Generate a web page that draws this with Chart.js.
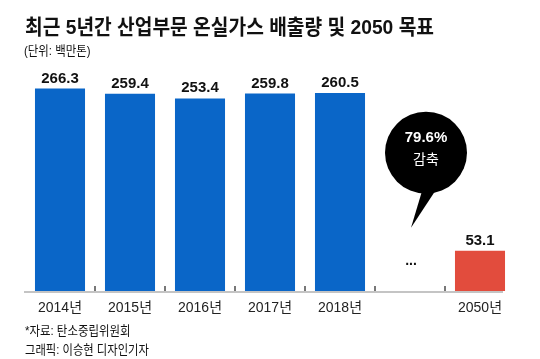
<!DOCTYPE html>
<html lang="ko">
<head>
  <meta charset="UTF-8" />
  <title>산업부문 온실가스 배출량</title>
  <script src="https://cdn.jsdelivr.net/npm/chart.js"></script>
  <style>
    body { margin: 0; background: #fff; font-family: 'Liberation Sans', 'Noto Sans CJK KR', sans-serif; color: #111; }
    #wrap { position: relative; width: 540px; height: 359px; overflow: hidden; }
    .txt { position: absolute; white-space: nowrap; line-height: 1; transform-origin: left top; }
    #title { left: 25px; top: 16px; font-size: 21px; font-weight: bold; transform: scaleX(0.915); }
    #unit { left: 24px; top: 44px; font-size: 13px; transform: scaleX(0.88); }
    #src { left: 25px; top: 324px; font-size: 13px; transform: scaleX(0.88); }
    #credit { left: 25px; top: 343px; font-size: 13px; transform: scaleX(0.87); }
    #box { position: absolute; left: 0; top: 0; width: 540px; height: 359px; }
  </style>
</head>
<body>
<div id="wrap">
  <div id="box"><canvas id="chart"></canvas></div>
  <div class="txt" id="title">최근 5년간 산업부문 온실가스 배출량 및 2050 목표</div>
  <div class="txt" id="unit">(단위: 백만톤)</div>
  <div class="txt" id="src">*자료: 탄소중립위원회</div>
  <div class="txt" id="credit">그래픽: 이승현 디자인기자</div>
</div>

<script>
  // data (백만톤)
  const years = ['2014년', '2015년', '2016년', '2017년', '2018년', '', '2050년'];
  const emissions = [266.3, 259.4, 253.4, 259.8, 260.5, null, 53.1];
  const gapLabel = '...';
  const cutLabel = '감축';

  const BLUE = '#0a66c8';
  const RED = '#e24c3d';
  const lastIdx = emissions.length - 1;

  // 2018 -> 2050 감축률
  const cutPct = ((1 - emissions[lastIdx] / emissions[4]) * 100).toFixed(1) + '%';

  Chart.defaults.font.family = "'Liberation Sans', 'Noto Sans CJK KR', sans-serif";

  const decor = {
    id: 'decor',
    afterDatasetsDraw(chart) {
      const { ctx, chartArea: a, scales: { x, y } } = chart;
      const meta = chart.getDatasetMeta(0);
      const base = y.getPixelForValue(0);
      ctx.save();

      // axis line
      ctx.strokeStyle = '#c4c4c4';
      ctx.lineWidth = 2;
      ctx.beginPath();
      ctx.moveTo(a.left - 1, base + 1);
      ctx.lineTo(a.right - 12, base + 1);
      ctx.stroke();

      // small ticks between categories
      ctx.strokeStyle = '#777';
      ctx.lineWidth = 2;
      for (let i = 0; i < years.length - 1; i++) {
        const tx = Math.round((x.getPixelForValue(i) + x.getPixelForValue(i + 1)) / 2);
        ctx.beginPath();
        ctx.moveTo(tx, base - 5);
        ctx.lineTo(tx, base);
        ctx.stroke();
      }

      // value labels
      ctx.fillStyle = '#111';
      ctx.textAlign = 'center';
      ctx.textBaseline = 'alphabetic';
      ctx.font = "bold 15px 'Liberation Sans', sans-serif";
      emissions.forEach((v, i) => {
        const bx = x.getPixelForValue(i);
        if (v === null) {
          ctx.font = "bold 14px 'Liberation Sans', sans-serif";
          ctx.fillText(gapLabel, bx + 1, base - 26);
          ctx.font = "bold 15px 'Liberation Sans', sans-serif";
          return;
        }
        const top = meta.data[i].y;
        ctx.fillText(v.toFixed(1), bx, top - 6);
      });

      // speech bubble
      const cx = x.getPixelForValue(5) + 16;
      const cy = y.getPixelForValue(182);
      const r = 41;
      ctx.fillStyle = '#000';
      ctx.beginPath();
      ctx.arc(cx, cy, r, 0, Math.PI * 2);
      ctx.fill();
      ctx.beginPath();
      ctx.moveTo(cx - 3, cy + r - 6);
      ctx.lineTo(cx + 10, cy + r - 4);
      ctx.lineTo(cx - 15, cy + r + 34);
      ctx.closePath();
      ctx.fill();

      ctx.fillStyle = '#fff';
      ctx.textBaseline = 'middle';
      ctx.font = "bold 15px 'Liberation Sans', sans-serif";
      ctx.fillText(cutPct, cx, cy - 15);
      ctx.font = "14px 'Noto Sans CJK KR', sans-serif";
      ctx.fillText(cutLabel, cx, cy + 6);

      ctx.restore();
    }
  };

  new Chart(document.getElementById('chart'), {
    type: 'bar',
    data: {
      labels: years,
      datasets: [{
        data: emissions,
        backgroundColor: c => (c.index === lastIdx ? RED : BLUE),
        borderWidth: 0,
        categoryPercentage: 1,
        barPercentage: 0.715
      }]
    },
    options: {
      responsive: true,
      maintainAspectRatio: false,
      animation: false,
      layout: { padding: { left: 25, right: 25, top: 63, bottom: 28 } },
      plugins: { legend: { display: false }, tooltip: { enabled: false } },
      scales: {
        x: {
          grid: { display: false, drawTicks: false },
          border: { display: false },
          ticks: { color: '#222', font: { size: 14 }, padding: 9, maxRotation: 0 },
          afterFit: s => { s.height = 40; }
        },
        y: { display: false, min: 0, max: 300 }
      }
    },
    plugins: [decor]
  });
</script>
</body>
</html>
